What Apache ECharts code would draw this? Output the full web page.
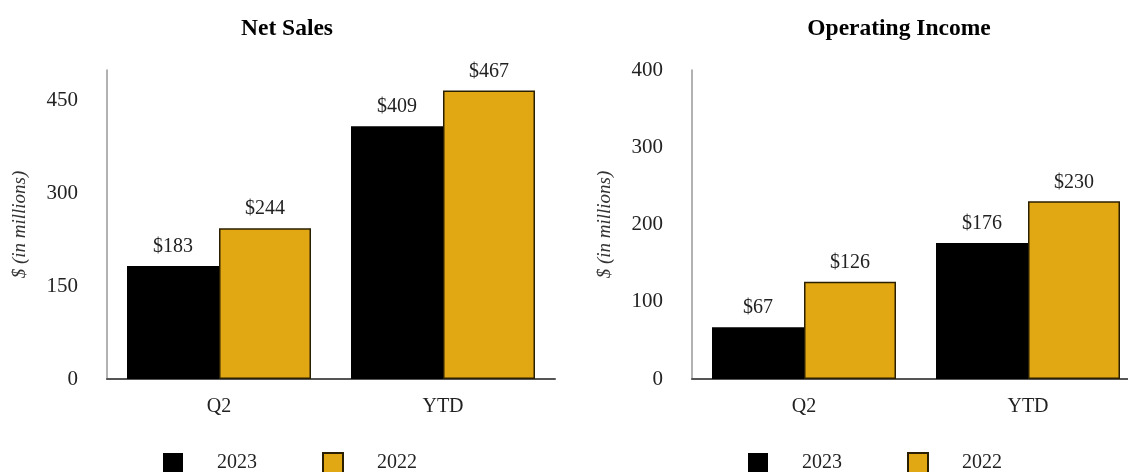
<!DOCTYPE html>
<html>
<head>
<meta charset="utf-8">
<script src="https://cdn.jsdelivr.net/npm/echarts@6/dist/echarts.min.js"></script>
<style>
  html, body { margin: 0; padding: 0; background: #fff; }
  #chart { width: 1128px; height: 472px; }
</style>
</head>
<body>
<div id="chart"></div>
<script>
const categories = ['Q2', 'YTD'];
const netSales2023 = [183, 409];
const netSales2022 = [244, 467];
const opIncome2023 = [67, 176];
const opIncome2022 = [126, 230];

const FONT = '"Liberation Serif", "DejaVu Serif", serif';
const GOLD = '#E2A814';

const chart = echarts.init(document.getElementById('chart'));

// shared label for bar values
const valueLabel = {
  show: true,
  position: 'top',
  distance: 9,
  formatter: (p) => '$' + p.value,
  color: '#222',
  fontFamily: FONT,
  fontSize: 20
};

const xAxisBase = {
  type: 'category',
  data: categories,
  axisTick: { show: false },
  axisLine: { lineStyle: { color: '#555', width: 2 } },
  axisLabel: { color: '#222', fontFamily: FONT, fontSize: 20, margin: 18 }
};

const yAxisBase = {
  type: 'value',
  min: 0,
  name: '$ (in millions)',
  nameLocation: 'middle',
  nameGap: 78,
  nameTextStyle: { color: '#333', fontFamily: FONT, fontSize: 19, fontStyle: 'italic' },
  splitLine: { show: false },
  axisTick: { show: false },
  axisLine: { show: true, lineStyle: { color: '#999', width: 1.5 } }
};

const legendBase = {
  data: ['2023', '2022'],
  top: 452,
  padding: 0,
  itemWidth: 20,
  itemHeight: 20,
  itemGap: 65,
  icon: 'rect',
  selectedMode: false,
  textStyle: { fontFamily: FONT, fontSize: 20, color: '#222', padding: [0, 0, 0, 29] }
};

const option = {
  backgroundColor: '#fff',
  animation: false,
  title: [
    { text: 'Net Sales', left: 282, top: 12, textAlign: 'center',
      textStyle: { fontFamily: FONT, fontSize: 23.5, fontWeight: 'bold', color: '#000' } },
    { text: 'Operating Income', left: 894, top: 12, textAlign: 'center',
      textStyle: { fontFamily: FONT, fontSize: 23.5, fontWeight: 'bold', color: '#000' } }
  ],
  legend: [
    Object.assign({ left: 163 }, legendBase),
    Object.assign({ left: 748 }, legendBase)
  ],
  grid: [
    { left: 107, top: 70, width: 448, height: 309, outerBoundsMode: 'none' },
    { left: 692, top: 70, width: 448, height: 309, outerBoundsMode: 'none' }
  ],
  xAxis: [
    Object.assign({ gridIndex: 0 }, xAxisBase),
    Object.assign({ gridIndex: 1 }, xAxisBase)
  ],
  yAxis: [
    Object.assign({}, yAxisBase, {
      gridIndex: 0, max: 500, interval: 150,
      axisLabel: { color: '#222', fontFamily: FONT, fontSize: 21, margin: 29,
        formatter: (v) => (v === 500 ? '' : v) }
    }),
    Object.assign({}, yAxisBase, {
      gridIndex: 1, max: 400, interval: 100,
      axisLabel: { color: '#222', fontFamily: FONT, fontSize: 21, margin: 29 }
    })
  ],
  series: [
    { name: '2023', type: 'bar', xAxisIndex: 0, yAxisIndex: 0, data: netSales2023,
      barWidth: 92, barGap: '0%', itemStyle: { color: '#000' }, label: valueLabel },
    { name: '2022', type: 'bar', xAxisIndex: 0, yAxisIndex: 0, data: netSales2022,
      barWidth: 92, barGap: '0%', itemStyle: { color: GOLD, borderColor: '#2a1f00', borderWidth: 1.5 }, label: valueLabel },
    { name: '2023', type: 'bar', xAxisIndex: 1, yAxisIndex: 1, data: opIncome2023,
      barWidth: 92, barGap: '0%', itemStyle: { color: '#000' }, label: valueLabel },
    { name: '2022', type: 'bar', xAxisIndex: 1, yAxisIndex: 1, data: opIncome2022,
      barWidth: 92, barGap: '0%', itemStyle: { color: GOLD, borderColor: '#2a1f00', borderWidth: 1.5 }, label: valueLabel }
  ]
};

chart.setOption(option);
</script>
</body>
</html>
